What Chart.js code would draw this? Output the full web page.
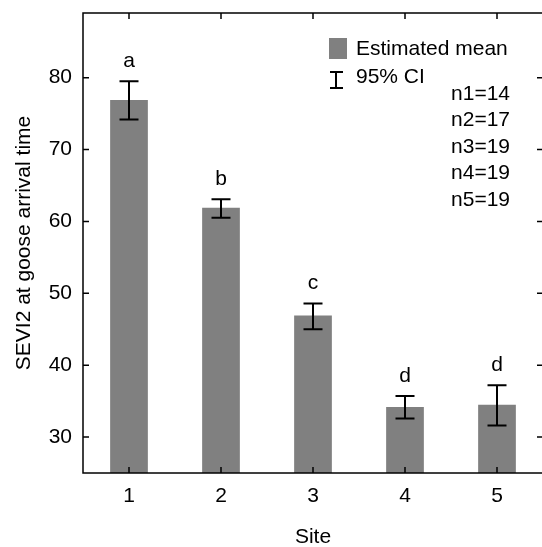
<!DOCTYPE html>
<html>
<head>
<meta charset="utf-8">
<script src="https://cdn.jsdelivr.net/npm/chart.js@4.4.1/dist/chart.umd.min.js"></script>
<style>
  html, body { margin: 0; padding: 0; overflow: hidden; background: #fff; }
  #wrap { position: relative; width: 552px; height: 547px; }
</style>
</head>
<body>
<div id="wrap"><canvas id="chart" width="552" height="547"></canvas></div>
<script>
// data
const sites = ['1', '2', '3', '4', '5'];
const means = [76.9, 61.9, 46.9, 34.2, 34.5];
const ciLow = [74.2, 60.5, 45.0, 32.6, 31.6];
const ciHigh = [79.5, 63.1, 48.6, 35.7, 37.2];
const groups = ['a', 'b', 'c', 'd', 'd'];
const sampleSizes = [14, 17, 19, 19, 19];
const yTicks = [30, 40, 50, 60, 70, 80];

const FONT = "'Liberation Sans', Arial, sans-serif";
const FS = 21;
const BAR_COLOR = '#808080';

Chart.defaults.font.family = FONT;
Chart.defaults.font.size = FS;
Chart.defaults.color = '#000';

// box round the plot, with inward tick marks on all four sides
const framePlugin = {
  id: 'frame',
  afterDraw(chart) {
    const { ctx, chartArea: a, scales } = chart;
    const tl = 6;
    ctx.save();
    ctx.strokeStyle = '#000';
    ctx.lineWidth = 1.5;
    ctx.strokeRect(a.left, a.top, a.right - a.left, a.bottom - a.top);
    ctx.beginPath();
    scales.y.ticks.forEach(t => {
      const y = scales.y.getPixelForValue(t.value);
      ctx.moveTo(a.left, y); ctx.lineTo(a.left + tl, y);
      ctx.moveTo(a.right, y); ctx.lineTo(a.right - tl, y);
    });
    sites.forEach((s, i) => {
      const x = scales.x.getPixelForValue(i);
      ctx.moveTo(x, a.bottom); ctx.lineTo(x, a.bottom - tl);
      ctx.moveTo(x, a.top); ctx.lineTo(x, a.top + tl);
    });
    ctx.stroke();
    ctx.restore();
  }
};

// 95% CI whiskers and group letters
const errorPlugin = {
  id: 'errorBars',
  afterDatasetsDraw(chart) {
    const { ctx, scales } = chart;
    const meta = chart.getDatasetMeta(0);
    const cap = 9.5;
    ctx.save();
    ctx.strokeStyle = '#000';
    ctx.lineWidth = 2;
    ctx.fillStyle = '#000';
    ctx.font = FS + 'px ' + FONT;
    ctx.textAlign = 'center';
    ctx.textBaseline = 'alphabetic';
    meta.data.forEach((bar, i) => {
      const x = bar.x;
      const yl = scales.y.getPixelForValue(ciLow[i]);
      const yh = scales.y.getPixelForValue(ciHigh[i]);
      ctx.beginPath();
      ctx.moveTo(x, yl); ctx.lineTo(x, yh);
      ctx.moveTo(x - cap, yl); ctx.lineTo(x + cap, yl);
      ctx.moveTo(x - cap, yh); ctx.lineTo(x + cap, yh);
      ctx.stroke();
      ctx.fillText(groups[i], x, yh - 14);
    });
    ctx.restore();
  }
};

// legend box and sample sizes inside the plot
const legendPlugin = {
  id: 'insideLegend',
  afterDraw(chart) {
    const { ctx } = chart;
    ctx.save();
    ctx.fillStyle = BAR_COLOR;
    ctx.fillRect(329, 38, 18, 21);
    ctx.strokeStyle = '#000';
    ctx.lineWidth = 2;
    ctx.beginPath();
    ctx.moveTo(336, 72); ctx.lineTo(336, 88);
    ctx.moveTo(330, 72); ctx.lineTo(343, 72);
    ctx.moveTo(330, 88); ctx.lineTo(343, 88);
    ctx.stroke();
    ctx.fillStyle = '#000';
    ctx.font = FS + 'px ' + FONT;
    ctx.textBaseline = 'middle';
    ctx.textAlign = 'left';
    ctx.fillText('Estimated mean', 356, 49);
    ctx.fillText('95% CI', 356, 77);
    ctx.textAlign = 'right';
    sampleSizes.forEach((n, i) => {
      ctx.fillText('n' + (i + 1) + '=' + n, 510, 94 + i * 26.5);
    });
    ctx.restore();
  }
};

new Chart(document.getElementById('chart'), {
  type: 'bar',
  data: {
    labels: sites,
    datasets: [{
      label: 'Estimated mean',
      data: means,
      backgroundColor: BAR_COLOR,
      borderWidth: 0,
      categoryPercentage: 1,
      barPercentage: 0.41
    }]
  },
  options: {
    responsive: false,
    animation: false,
    layout: { padding: { top: 13, right: 9, left: 0, bottom: 0 } },
    plugins: {
      legend: { display: false },
      tooltip: { enabled: false }
    },
    scales: {
      x: {
        grid: { display: false, drawTicks: false },
        border: { display: false },
        ticks: { padding: 11 },
        title: { display: true, text: 'Site', padding: { top: 0, bottom: -3 } },
        afterFit(scale) {
          scale.height = 74;
          scale.paddingLeft = 0;
          scale.paddingRight = 0;
        }
      },
      y: {
        min: 25,
        max: 89,
        grid: { display: false, drawTicks: false },
        border: { display: false },
        ticks: { padding: 11 },
        afterBuildTicks(scale) { scale.ticks = yTicks.map(v => ({ value: v })); },
        title: { display: true, text: 'SEVI2 at goose arrival time', padding: { top: 12, bottom: 0 } },
        afterFit(scale) {
          scale.width = 83;
          scale.paddingTop = 0;
          scale.paddingBottom = 0;
        }
      }
    }
  },
  plugins: [framePlugin, errorPlugin, legendPlugin]
});
</script>
</body>
</html>
